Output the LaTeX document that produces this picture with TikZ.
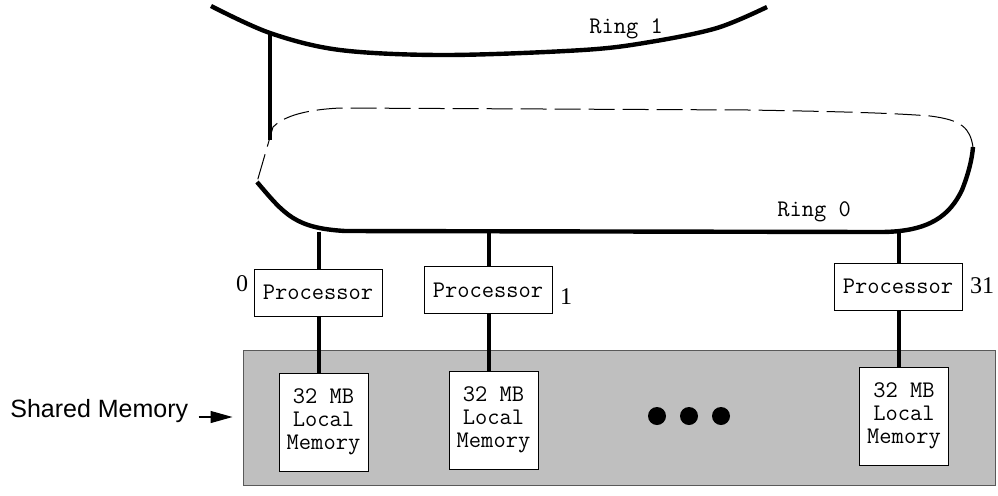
\documentclass[tikz,border=0pt]{standalone}
\usepackage{fontspec}
\setmainfont{Liberation Serif}
\newfontfamily\helv{Liberation Sans}
\usetikzlibrary{arrows.meta}

\begin{document}
\begin{tikzpicture}[x=0.5pt,y=-0.5pt,
  ring/.style={line width=2.2pt,line join=round},
  ringlink/.style={line width=2pt},
  ghost/.style={line width=0.5pt,dash pattern=on 13pt off 4pt},
  monotext/.style={font=\ttfamily\fontsize{11.9}{12}\selectfont},
  procbox/.style={monotext,draw,line width=0.5pt,fill=white,minimum width=64pt,minimum height=23.5pt,
    inner sep=0pt},
  membox/.style={draw,line width=0.5pt,fill=white,minimum width=44.5pt,minimum height=49pt,
    inner sep=0pt,align=center,font=\ttfamily\fontsize{11.9}{11.5}\selectfont},
  pnum/.style={inner sep=0pt,font=\fontsize{12}{13}\selectfont},
  ringlabel/.style={monotext,inner sep=0pt,anchor=base west},
  dot/.style={circle,fill=black,inner sep=0pt,minimum size=9pt}]

\useasboundingbox (0,0) rectangle (998,495);

% ---- Ring 1 ----
\draw[ring] plot[smooth,tension=0.55] coordinates
  {(211,6) (270,33) (340,50) (445,55) (583,50) (650,42) (717,28) (767,7)};
\node[ringlabel] (r1label) at (589,33) {Ring 1};

% ---- Ring 0: solid lower part and dashed back part ----
\draw[ring] (257,182) .. controls (285,215) and (295,228) .. (345,231)
  -- (880,232) .. controls (930,232) and (950,215) .. (962,190)
  .. controls (968,175) and (972,160) .. (973,147);
\draw[ghost] (973,147) .. controls (970,128) and (962,120) .. (930,116)
  .. controls (880,112) and (800,111) .. (750,110) -- (340,108)
  .. controls (300,110) and (282,118) .. (273,127) -- (257,182);
\node[ringlabel] (r0label) at (777,216) {Ring 0};

% link between the two rings
\coordinate (r1tap) at (270,33);
\coordinate (r0tap) at (270,140);
\draw[ringlink] (r1tap) -- (r0tap);

% ---- Shared memory block ----
\node[draw=black!65,line width=0.5pt,fill=black!25,minimum width=376pt,minimum height=67.5pt,
  inner sep=0pt] (shm) at (619,417.5) {};
\node[inner sep=0pt,anchor=base west,font=\helv\fontsize{12.5}{14}\selectfont]
  (shmlabel) at (10,417) {Shared Memory};
\draw[line width=0.6pt,-{Triangle[length=11pt,width=6pt]},shorten <=5pt,shorten >=5pt]
  (shmlabel.east |- 0,417) -- (shm.west |- 0,417);

% ---- Processors ----
\node[procbox] (p0) at (318,292.5) {Processor};
\node[procbox] (p1) at (488,290) {Processor};
\node[procbox] (p31) at (898,286.5) {Processor};

\node[pnum] (n0) at (242,284) {0};
\node[pnum] (n1) at (566,297) {1};
\node[pnum] (n31) at (982,286) {31};

% ---- Local memories ----
\node[membox] (m0) at (323.5,422) {32 MB\\Local\\Memory};
\node[membox] (m1) at (493.5,420) {32 MB\\Local\\Memory};
\node[membox] (m31) at (904,416) {32 MB\\Local\\Memory};

% ring taps
\coordinate (t0) at (319,232);
\coordinate (t1) at (489,232);
\coordinate (t31) at (899,232);

% connectors ring -> processor -> memory
\foreach \t/\p/\m in {t0/p0/m0, t1/p1/m1, t31/p31/m31}{
  \draw[ringlink] (\t) -- (\t |- \p.north);
  \draw[ringlink] (\t |- \p.south) -- (\t |- \m.north);
}

% ellipsis dots
\node[dot] (d1) at (657,416) {};
\node[dot] (d2) at (689,416) {};
\node[dot] (d3) at (721,416) {};

\end{tikzpicture}
\end{document}
